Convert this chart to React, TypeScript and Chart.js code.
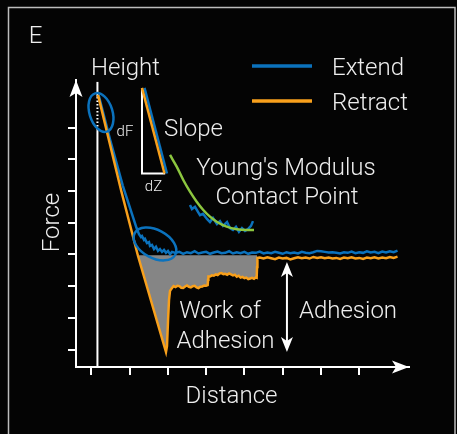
import { useEffect, useRef } from "react";
import { Chart, registerables } from "chart.js";

Chart.register(...registerables);

type Pt = [number, number];

// Axis tick positions (arbitrary distance / force units)
const distanceTicks = [1, 2, 3, 4, 5, 6, 7, 8];
const forceTicks = [-3, -2, -1, 0, 1, 2, 3, 4];
const DISTANCE_MIN = 0.6;
const DISTANCE_MAX = 9.3;
const FORCE_MIN = -3.55;
const FORCE_MAX = 5.5;

// Zero-force level that bounds the work-of-adhesion area
const BASELINE = -0.03;
// Distance range of the adhesion well on the retract curve
const WORK_START = 2.22;
const WORK_END = 5.33;

const seriesLabels = ["Extend", "Retract"];

// Extend (approach) curve: contact slope, then the noisy jump-in region
const extendContact: Pt[] = [
  [1.19, 5.03], [1.49, 3.62], [1.82, 2.18], [2.18, 0.84],
  [2.246, 0.64], [2.298, 0.55], [2.324, 0.58], [2.376, 0.46], [2.402, 0.49],
  [2.455, 0.36], [2.507, 0.39], [2.533, 0.27], [2.585, 0.3], [2.638, 0.17],
  [2.69, 0.24], [2.742, 0.11], [2.794, 0.17], [2.847, 0.08], [2.899, 0.14],
  [2.951, 0.05], [3.003, 0.11], [3.056, 0.01], [3.108, 0.08],
];

// Extend curve: free (non-contact) part
const extendFree: Pt[] = [
  [3.2, 0.05], [3.3, 0.08], [3.4, 0.02], [3.5, 0.07], [3.6, 0.04], [3.7, 0.1],
  [3.8, 0.03], [3.9, 0.06], [4.0, 0.08], [4.1, 0.02], [4.2, 0.06], [4.3, 0.09],
  [4.4, 0.04], [4.5, 0.05], [4.6, 0.1], [4.7, 0.03], [4.8, 0.07], [4.9, 0.04],
  [5.0, 0.08], [5.1, 0.02], [5.2, 0.06], [5.3, 0.05], [5.4, 0.09], [5.5, 0.03],
  [5.6, 0.06], [5.7, 0.04], [5.8, 0.08], [5.9, 0.05], [6.0, 0.02], [6.1, 0.07],
  [6.2, 0.04], [6.3, 0.06], [6.4, 0.03], [6.5, 0.08], [6.6, 0.05], [6.7, 0.04],
  [6.8, 0.07], [6.9, 0.11], [7.0, 0.1], [7.1, 0.08], [7.2, 0.06], [7.3, 0.07],
  [7.4, 0.05], [7.5, 0.03], [7.6, 0.07], [7.7, 0.05], [7.8, 0.09], [7.9, 0.04],
  [8.0, 0.07], [8.1, 0.05], [8.2, 0.1], [8.3, 0.06], [8.4, 0.08], [8.5, 0.04],
  [8.6, 0.09], [8.7, 0.06], [8.8, 0.1], [8.9, 0.07], [9.0, 0.12],
];

// Retract curve: unloading, adhesion well and stepwise unbinding
const retractContact: Pt[] = [
  [1.175, 5.03], [1.776, 2.03], [2.22, -0.05], [2.951, -3.077],
  [2.977, -2.89], [3.003, -2.13], [3.03, -1.44], [3.056, -1.15], [3.108, -1.06],
  [3.15, -1.0], [3.2, -1.03], [3.25, -0.99], [3.3, -1.0], [3.35, -1.05],
  [3.4, -1.06], [3.45, -1.01], [3.5, -0.98], [3.55, -1.02], [3.6, -1.04],
  [3.65, -1.0], [3.7, -0.99], [3.75, -1.04], [3.8, -1.06], [3.85, -1.02],
  [3.9, -1.01], [3.95, -0.98], [4.0, -0.99], [4.04, -0.97],
  [4.05, -0.8], [4.06, -0.7],
  [4.1, -0.7], [4.15, -0.66], [4.2, -0.67], [4.25, -0.63], [4.3, -0.65],
  [4.35, -0.6], [4.4, -0.59], [4.45, -0.62], [4.5, -0.61], [4.55, -0.64],
  [4.6, -0.6], [4.65, -0.63], [4.7, -0.66], [4.75, -0.64], [4.8, -0.7],
  [4.85, -0.67], [4.9, -0.73], [4.95, -0.71], [5.0, -0.75], [5.05, -0.73],
  [5.1, -0.78], [5.15, -0.76], [5.2, -0.74], [5.25, -0.77], [5.3, -0.72],
  [5.32, -0.73], [5.33, -0.4],
];

// Retract curve after the last unbinding event
const retractFree: Pt[] = [
  [5.34, -0.11], [5.4, -0.1], [5.5, -0.13], [5.6, -0.09], [5.7, -0.12],
  [5.8, -0.15], [5.9, -0.1], [6.0, -0.13], [6.1, -0.11], [6.2, -0.16],
  [6.3, -0.12], [6.4, -0.09], [6.5, -0.12], [6.6, -0.1], [6.7, -0.13],
  [6.8, -0.08], [6.9, -0.11], [7.0, -0.09], [7.1, -0.12], [7.2, -0.1],
  [7.3, -0.13], [7.4, -0.11], [7.5, -0.14], [7.6, -0.1], [7.7, -0.12],
  [7.8, -0.09], [7.9, -0.13], [8.0, -0.11], [8.1, -0.14], [8.2, -0.1],
  [8.3, -0.12], [8.4, -0.09], [8.5, -0.13], [8.6, -0.1], [8.7, -0.12],
  [8.8, -0.08], [8.9, -0.11], [9.0, -0.07],
];

// "Height" marker line (the middle segment is dotted)
const heightMarker: Pt[] = [[1.16, -3.55], [1.16, 3.92], [1.16, 4.97], [1.16, 5.44]];

// Slope inset: dF / dZ triangle and the two contact slopes
const slopeTriangle: Pt[] = [[2.324, 5.25], [2.324, 2.55], [2.93, 2.55]];
const slopeExtend: Pt[] = [[2.389, 5.25], [2.977, 2.55]];
const slopeRetract: Pt[] = [[2.324, 5.25], [2.912, 2.55]];

// Contact-point region of the extend curve and its Young's modulus fit
const contactTrace: Pt[] = [
  [3.578, 1.56], [3.63, 1.43], [3.709, 1.5], [3.787, 1.34], [3.839, 1.24],
  [3.918, 1.28], [4.022, 1.12], [4.1, 1.02], [4.179, 1.15], [4.283, 0.96],
  [4.362, 1.05], [4.44, 0.9], [4.545, 1.02], [4.623, 0.83], [4.701, 0.77],
  [4.78, 0.87], [4.858, 0.71], [4.936, 0.83], [5.015, 0.74], [5.093, 0.8],
  [5.172, 0.9], [5.224, 1.05],
];
const modulusFit: Pt[] = [
  [3.056, 3.136], [3.231, 2.767], [3.403, 2.347], [3.578, 1.978],
  [3.753, 1.663], [3.925, 1.401], [4.1, 1.19], [4.276, 1.032],
  [4.537, 0.875], [4.798, 0.793], [5.059, 0.771], [5.25, 0.771],
];

// Annotation anchors (data units)
const contactMarker: Pt = [1.253, 4.476];
const jumpInMarker: Pt = [2.664, 0.329];
const adhesionArrow = { at: 6.111, from: -0.239, to: -3.077 };

const BLUE = "#0B72BD";
const ORANGE = "#F8A01C";
const GREEN = "#8CC63F";
const FILL = "#858585";
const WHITE = "#ffffff";
const TEXT = "#eeeeee";
const FONT = "Roboto, 'Liberation Sans', sans-serif";

const toXY = (pts: Pt[]) => pts.map(([x, y]) => ({ x, y }));

function arrowHead(ctx: CanvasRenderingContext2D, x: number, y: number, angle: number, len = 16, half = 6.5, notch = 4) {
  ctx.save();
  ctx.translate(x, y);
  ctx.rotate(angle);
  ctx.beginPath();
  ctx.moveTo(0, 0);
  ctx.lineTo(-len, -half);
  ctx.lineTo(-len + notch, 0);
  ctx.lineTo(-len, half);
  ctx.closePath();
  ctx.fill();
  ctx.restore();
}

const decorations = {
  id: "decorations",
  beforeDraw(chart: any) {
    const { ctx, width, height } = chart;
    ctx.save();
    ctx.fillStyle = "#040404";
    ctx.fillRect(0, 0, width, height);
    ctx.strokeStyle = "#bdbdbd";
    ctx.lineWidth = 1.5;
    ctx.strokeRect(8.5, 7.5, 446.5, height + 20);
    ctx.restore();
  },
  afterDatasetsDraw(chart: any) {
    const { ctx } = chart;
    const xs = chart.scales.x;
    const ys = chart.scales.y;
    ctx.save();
    ctx.strokeStyle = BLUE;
    ctx.lineWidth = 2.5;
    ctx.beginPath();
    ctx.ellipse(xs.getPixelForValue(contactMarker[0]), ys.getPixelForValue(contactMarker[1]), 11.5, 20, (-17 * Math.PI) / 180, 0, Math.PI * 2);
    ctx.stroke();
    ctx.beginPath();
    ctx.ellipse(xs.getPixelForValue(jumpInMarker[0]), ys.getPixelForValue(jumpInMarker[1]), 23, 14, (28 * Math.PI) / 180, 0, Math.PI * 2);
    ctx.stroke();

    // Adhesion double arrow
    const ax = xs.getPixelForValue(adhesionArrow.at);
    const ay1 = ys.getPixelForValue(adhesionArrow.from);
    const ay2 = ys.getPixelForValue(adhesionArrow.to);
    ctx.strokeStyle = WHITE;
    ctx.fillStyle = WHITE;
    ctx.lineWidth = 2;
    ctx.beginPath();
    ctx.moveTo(ax, ay1 + 8);
    ctx.lineTo(ax, ay2 - 8);
    ctx.stroke();
    arrowHead(ctx, ax, ay1, -Math.PI / 2, 15, 6, 4);
    arrowHead(ctx, ax, ay2, Math.PI / 2, 15, 6, 4);
    ctx.restore();
  },
  afterDraw(chart: any) {
    const { ctx, chartArea } = chart;
    ctx.save();
    // axis arrowheads
    ctx.fillStyle = WHITE;
    arrowHead(ctx, chartArea.left, chartArea.top, -Math.PI / 2, 17, 6.5, 4);
    arrowHead(ctx, chartArea.right, chartArea.bottom, 0, 17, 6.5, 4);

    const big = `300 24px ${FONT}`;
    const small = `300 15px ${FONT}`;

    // legend
    const legend = [
      { label: seriesLabels[0], color: BLUE, y: 66 },
      { label: seriesLabels[1], color: ORANGE, y: 101 },
    ];
    ctx.lineWidth = 3.5;
    ctx.font = big;
    ctx.textBaseline = "alphabetic";
    for (const item of legend) {
      ctx.strokeStyle = item.color;
      ctx.beginPath();
      ctx.moveTo(252, item.y);
      ctx.lineTo(312, item.y);
      ctx.stroke();
      ctx.fillStyle = TEXT;
      ctx.textAlign = "left";
      ctx.fillText(item.label, 332, item.y + 9);
    }

    const labels: [string, number, number, string][] = [
      ["E", 35.5, 43, big],
      ["Height", 125.5, 75, big],
      ["dF", 125, 136, small],
      ["Slope", 193.5, 136, big],
      ["dZ", 153.5, 190.5, small],
      ["Young's Modulus", 286, 175, big],
      ["Contact Point", 287, 204, big],
      ["Work of", 220, 318, big],
      ["Adhesion", 225.5, 348, big],
      ["Adhesion", 348, 318, big],
      ["Distance", 231.5, 403, big],
    ];
    ctx.fillStyle = TEXT;
    ctx.textAlign = "center";
    for (const [t, x, y, f] of labels) {
      ctx.font = f;
      ctx.fillText(t, x, y);
    }
    ctx.font = big;
    ctx.translate(58.5, 222.5);
    ctx.rotate(-Math.PI / 2);
    ctx.fillText("Force", 0, 0);
    ctx.restore();
  },
};

export default function App() {
  const ref = useRef<HTMLCanvasElement | null>(null);

  useEffect(() => {
    if (!ref.current) return;
    const line = (data: Pt[], color: string, width: number, order: number, extra: any = {}) => ({
      data: toXY(data),
      borderColor: color,
      borderWidth: width,
      showLine: true,
      pointRadius: 0,
      fill: false,
      tension: 0,
      order,
      ...extra,
    });

    const retractAll = [...retractContact, ...retractFree];
    const workArea = retractAll.filter(([x]) => x >= WORK_START && x <= WORK_END);

    const chart = new Chart(ref.current, {
      type: "scatter",
      data: {
        datasets: [
          line(heightMarker, WHITE, 2, 9, {
            segment: { borderDash: (c: any) => (c.p0DataIndex === 1 ? [1.5, 2] : undefined) },
          }),
          line(workArea, "rgba(0,0,0,0)", 0, 8, {
            backgroundColor: FILL,
            fill: { value: BASELINE },
          }),
          line([...extendContact, ...extendFree], BLUE, 2.5, 7, { label: seriesLabels[0] }),
          line(retractAll, ORANGE, 2.5, 6, { label: seriesLabels[1] }),
          line(slopeTriangle, WHITE, 2, 5),
          line(slopeExtend, BLUE, 2.5, 4),
          line(slopeRetract, ORANGE, 2.5, 3),
          line(contactTrace, BLUE, 2.5, 2),
          line(modulusFit, GREEN, 2.5, 1, { cubicInterpolationMode: "monotone" }),
        ],
      },
      options: {
        responsive: false,
        maintainAspectRatio: false,
        devicePixelRatio: 1,
        animation: false,
        events: [],
        layout: { padding: { left: 68, top: 80, right: 48, bottom: 59 } },
        plugins: { legend: { display: false }, tooltip: { enabled: false } },
        scales: {
          x: {
            type: "linear",
            min: DISTANCE_MIN,
            max: DISTANCE_MAX,
            afterBuildTicks: (s: any) => {
              s.ticks = distanceTicks.map((value) => ({ value }));
            },
            ticks: { display: false },
            grid: { drawOnChartArea: false, drawTicks: true, tickLength: 8, color: WHITE, lineWidth: 2 },
            border: { display: true, color: WHITE, width: 2 },
          },
          y: {
            type: "linear",
            min: FORCE_MIN,
            max: FORCE_MAX,
            afterBuildTicks: (s: any) => {
              s.ticks = forceTicks.map((value) => ({ value }));
            },
            ticks: { display: false },
            grid: { drawOnChartArea: false, drawTicks: true, tickLength: 8, color: WHITE, lineWidth: 2 },
            border: { display: true, color: WHITE, width: 2 },
          },
        },
      },
      plugins: [decorations],
    } as any);
    return () => chart.destroy();
  }, []);

  return (
    <div style={{ position: "fixed", left: 0, top: 0, width: 457, height: 434, background: "#040404" }}>
      <canvas ref={ref} width={457} height={434} style={{ display: "block", width: 457, height: 434 }} />
    </div>
  );
}
